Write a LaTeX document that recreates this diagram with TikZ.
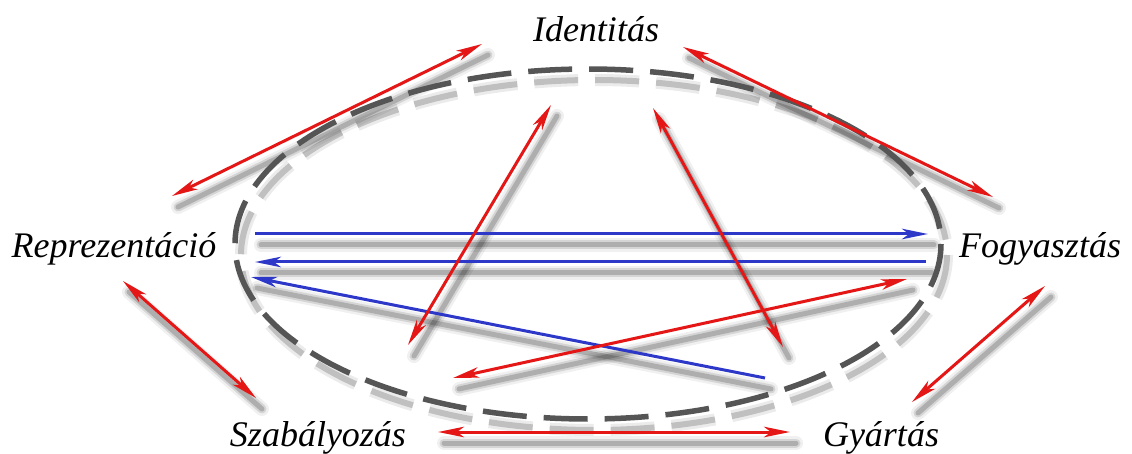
\documentclass[tikz,border=0pt]{standalone}
\usepackage{fontspec}
\setmainfont{Liberation Serif}
\usetikzlibrary{arrows.meta}
\definecolor{redc}{RGB}{228,22,22}
\definecolor{bluec}{RGB}{45,55,200}
\definecolor{dashc}{RGB}{85,85,85}
\tikzset{
  lbl/.style={font=\fontsize{36}{40}\selectfont\itshape, anchor=base, inner sep=0pt},
  tipr/.tip={Stealth[length=26pt,width=10.5pt,inset=7pt]},
  rarrow/.style={draw=redc, line width=3pt, arrows={tipr-tipr}},
  barrow/.style={draw=bluec, line width=3pt, arrows={-Stealth[length=26pt,width=10.5pt,inset=7pt]}},
  shd/.style={draw=black, line cap=round},
  ring/.style={draw=dashc, line width=5.5pt, dash pattern=on 44pt off 17pt},
}
\newcommand\shadowseg[2]{%
  \draw[shd, line width=14pt, opacity=0.06] ([xshift=6pt,yshift=-11pt]#1) -- ([xshift=6pt,yshift=-11pt]#2);
  \draw[shd, line width=9pt, opacity=0.11] ([xshift=6pt,yshift=-11pt]#1) -- ([xshift=6pt,yshift=-11pt]#2);
  \draw[shd, line width=5pt, opacity=0.18] ([xshift=6pt,yshift=-11pt]#1) -- ([xshift=6pt,yshift=-11pt]#2);
}
\begin{document}
\begin{tikzpicture}[x=1pt,y=-1pt]
\useasboundingbox (0,0) rectangle (1132,454);
\fill[white] (0,0) rectangle (1132,454);

% labels
\node[lbl] (id) at (596,42) {Identitás};
\node[lbl] (rep) at (114,258) {Reprezentáció};
\node[lbl] (fog) at (1040,258) {Fogyasztás};
\node[lbl] (sza) at (318,446) {Szabályozás};
\node[lbl] (gya) at (881,446) {Gyártás};

% arrow end points
\coordinate (a1) at (172,196); \coordinate (a2) at (482,44);
\coordinate (b1) at (683,47);  \coordinate (b2) at (993,197);
\coordinate (c1) at (123,281); \coordinate (c2) at (256,398);
\coordinate (d1) at (912,402); \coordinate (d2) at (1045,286);
\coordinate (e1) at (438,432); \coordinate (e2) at (790,432);
\coordinate (f1) at (408,345); \coordinate (f2) at (551,105);
\coordinate (g1) at (653,108); \coordinate (g2) at (783,347);
\coordinate (h1) at (453,378); \coordinate (h2) at (907,279);
\coordinate (i1) at (255,234); \coordinate (i2) at (928,234);
\coordinate (j1) at (926,262); \coordinate (j2) at (255,262);
\coordinate (k1) at (765,378); \coordinate (k2) at (251,277);
\coordinate (ec) at (588,244);

% ellipse shadow
\draw[ring, draw=black, opacity=0.08, line width=12pt] ([xshift=6pt,yshift=-11pt]ec) ellipse [x radius=353, y radius=175];
\draw[ring, draw=black, opacity=0.18, line width=6pt] ([xshift=6pt,yshift=-11pt]ec) ellipse [x radius=353, y radius=175];

% shadows of arrows
\foreach \p/\q in {a1/a2,b1/b2,c1/c2,d1/d2,e1/e2,f1/f2,g1/g2,h1/h2,i1/i2,j1/j2,k1/k2} {\shadowseg{\p}{\q}}

% ellipse
\draw[ring] (ec) ellipse [x radius=353, y radius=175];

% blue arrows
\draw[barrow] (i1) -- (i2);
\draw[barrow] (j1) -- (j2);
\draw[barrow] (k1) -- (k2);

% red arrows
\draw[rarrow] (a1) -- (a2);
\draw[rarrow] (b1) -- (b2);
\draw[rarrow] (c1) -- (c2);
\draw[rarrow] (d1) -- (d2);
\draw[rarrow] (e1) -- (e2);
\draw[rarrow] (f1) -- (f2);
\draw[rarrow] (g1) -- (g2);
\draw[rarrow] (h1) -- (h2);
\end{tikzpicture}
\end{document}
